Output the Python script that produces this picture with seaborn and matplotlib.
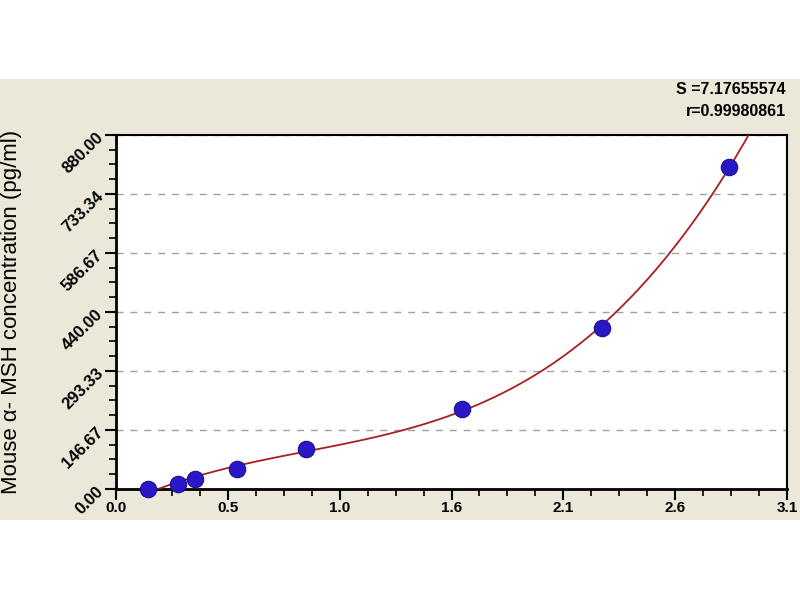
import numpy as np
import pandas as pd
import matplotlib
matplotlib.use("Agg")
import matplotlib.pyplot as plt
from matplotlib.patches import Rectangle
from matplotlib.ticker import AutoMinorLocator, FixedLocator
import seaborn as sns

# standard curve points (OD vs concentration)
od = [0.149, 0.285, 0.365, 0.558, 0.876, 1.600, 2.245, 2.832]
conc = [0.0, 12.5, 25.0, 50.0, 100.0, 200.0, 400.0, 800.0]

x_ticks = [0.0, 3.1 / 6, 3.1 / 3, 3.1 / 2, 3.1 * 2 / 3, 3.1 * 5 / 6, 3.1]
x_labels = ["0.0", "0.5", "1.0", "1.6", "2.1", "2.6", "3.1"]
y_ticks = [0.0, 146.67, 293.33, 440.0, 586.67, 733.34, 880.0]
y_labels = ["0.00", "146.67", "293.33", "440.00", "586.67", "733.34", "880.00"]
stats_text = ["S =7.17655574", "r=0.99980861"]

df = pd.DataFrame({"od": od, "conc": conc})

# cubic fit through the standards
coef = np.polyfit(df["od"], df["conc"], 3)
xf = np.linspace(min(od), 3.1, 300)
fit = pd.DataFrame({"od": xf, "conc": np.polyval(coef, xf)})

sns.set_style("white")
plt.rcParams["font.family"] = ["Liberation Sans Narrow", "Liberation Sans", "DejaVu Sans"]

fig = plt.figure(figsize=(8, 6), dpi=100)
fig.patch.set_facecolor("white")
fig.patches.append(Rectangle((0, 1 - 520 / 600), 1, (520 - 79) / 600,
                             transform=fig.transFigure, facecolor="#ebe8d9",
                             edgecolor="none", zorder=-10))

ax = fig.add_axes([116 / 800, 1 - 489 / 600, 671 / 800, 354 / 600])
ax.set_zorder(5)
ax.set_facecolor("white")

sns.lineplot(data=fit, x="od", y="conc", ax=ax, color="#a82020", lw=1.3,
             zorder=3, legend=False)
sns.scatterplot(data=df, x="od", y="conc", ax=ax, color="#2a18c8", s=140,
                edgecolor="#1a0e90", linewidth=0.8, zorder=4, clip_on=False)

ax.set_xlim(0, 3.1)
ax.set_ylim(0, 880)
ax.xaxis.set_major_locator(FixedLocator(x_ticks))
ax.yaxis.set_major_locator(FixedLocator(y_ticks))
ax.xaxis.set_minor_locator(AutoMinorLocator(4))
ax.yaxis.set_minor_locator(AutoMinorLocator(4))
ax.set_xticklabels(x_labels, fontsize=11, fontweight="bold")
ax.set_yticklabels(y_labels, fontsize=12, fontweight="bold", rotation=45,
                   ha="right", va="center", rotation_mode="anchor")

ax.tick_params(which="major", direction="out", length=8, width=1.5,
               color="black", left=True, bottom=True, labelcolor="black")
ax.tick_params(axis="x", which="major", pad=1)
ax.tick_params(axis="y", which="major", pad=3)
ax.tick_params(which="minor", direction="out", length=5, width=1.2,
               color="black", left=True, bottom=True)

ax.yaxis.grid(True, which="major", linestyle=(0, (5, 5)), color="#a0a0a0", lw=1)
ax.xaxis.grid(False)
ax.set_axisbelow(True)

for side in ["left", "bottom"]:
    ax.spines[side].set_linewidth(2)
    ax.spines[side].set_color("black")
for side in ["top", "right"]:
    ax.spines[side].set_linewidth(1.5)
    ax.spines[side].set_color("black")

ax.set_xlabel("")
ax.set_ylabel("")
fig.text(12 / 800, 1 - 312 / 600, "Mouse \u03b1- MSH concentration (pg/ml)",
         rotation=90, ha="center", va="center", fontsize=16, color="black",
         family=["Liberation Sans", "DejaVu Sans"])

fig.text(786 / 800, 1 - 90 / 600, stats_text[0], ha="right", va="center",
         fontsize=11.5, color="black", fontweight="bold")
fig.text(786 / 800, 1 - 112 / 600, stats_text[1], ha="right", va="center",
         fontsize=11.5, color="black", fontweight="bold")

fig.savefig("out.png", dpi=100)
